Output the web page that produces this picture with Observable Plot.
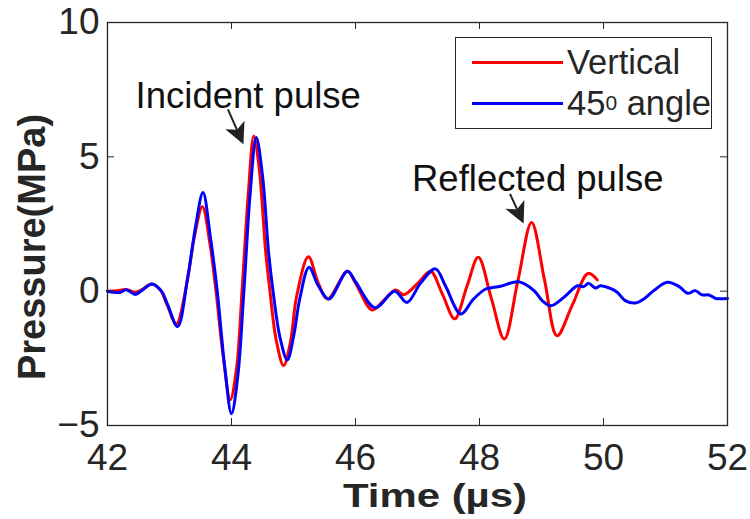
<!DOCTYPE html>
<html><head><meta charset="utf-8">
<script src="https://cdn.jsdelivr.net/npm/d3@7"></script>
<script src="https://cdn.jsdelivr.net/npm/@observablehq/plot@0.6"></script>
<style>
body{margin:0;background:#fff;}
#wrap{position:relative;width:750px;height:519px;font-family:"Liberation Sans",Arial,sans-serif;color:#262626;}
#legend{position:absolute;left:455px;top:37px;width:255px;height:90px;border:1.5px solid #262626;background:#fff;}
.row{position:absolute;left:0;height:40px;display:flex;align-items:center;font-size:34.5px;white-space:nowrap;}
.sw{display:inline-block;width:91px;height:3px;margin-left:16px;margin-right:4px;}
sup{font-size:21px;vertical-align:14px;line-height:0;}
</style></head><body><div id="wrap"></div>
<script>
// Vertical (red) series
const timeVertical = [42.0,42.15,42.3,42.45,42.55,42.71,42.85,42.96,43.11,43.28,43.4,43.53,43.65,43.75,43.87,43.98,44.08,44.17,44.27,44.36,44.45,44.55,44.62,44.72,44.84,44.95,45.05,45.24,45.4,45.55,45.87,46.0,46.27,46.45,46.65,46.78,47.02,47.21,47.4,47.6,47.8,47.98,48.19,48.4,48.62,48.84,49.05,49.25,49.5,49.75,49.9];
const pVertical    = [0.0,0.02,0.06,-0.04,0.05,0.27,0.05,-0.5,-1.22,0.3,2.0,3.14,1.8,0.0,-2.5,-4.04,-2.9,0.0,3.6,5.78,4.5,1.5,0.0,-1.8,-2.77,-1.9,-0.2,1.28,0.3,-0.29,0.74,0.3,-0.7,-0.35,0.04,-0.13,0.33,0.74,-0.1,-1.03,0.2,1.26,-0.26,-1.78,0.4,2.56,0.4,-1.66,-0.5,0.66,0.42];
// 45 degree angle (blue) series
const time45 = [42.0,42.2,42.3,42.45,42.55,42.72,42.87,42.97,43.13,43.3,43.42,43.54,43.66,43.77,43.89,44.0,44.1,44.2,44.3,44.4,44.5,44.6,44.67,44.78,44.9,45.0,45.1,45.25,45.4,45.57,45.87,46.0,46.32,46.63,46.83,47.05,47.29,47.45,47.7,47.9,48.1,48.18,48.34,48.63,48.88,49.01,49.15,49.36,49.58,49.68,49.76,49.87,49.95,50.11,50.22,50.35,50.52,50.65,50.81,51.03,51.22,51.36,51.48,51.59,51.7,51.81,52.0];
const p45    = [0.0,-0.05,0.05,-0.12,0.02,0.27,0.0,-0.5,-1.32,0.6,2.4,3.67,2.0,0.0,-2.8,-4.56,-3.2,0.0,3.6,5.72,4.3,1.4,0.0,-1.7,-2.56,-1.7,-0.3,0.89,0.2,-0.29,0.74,0.35,-0.62,0.0,-0.42,0.3,0.83,0.2,-0.85,-0.3,0.08,0.12,0.18,0.35,0.02,-0.35,-0.54,-0.23,0.2,0.17,0.29,0.12,0.2,0.1,-0.04,-0.35,-0.44,-0.29,0.02,0.33,0.17,-0.08,0.02,-0.14,-0.14,-0.27,-0.27];
const xTicks = [42,44,46,48,50,52];
const yTicks = [-5,0,5,10];
const seriesNames = ["Vertical","45⁰ angle"];
const seriesColors = ["#ff0000","#0000ff"];
const xLabel = "Time (µs)";
const yLabel = "Pressure(MPa)";
const annoLabels = ["Incident pulse","Reflected pulse"];
const annoX = [44.27,48.94];
const annoY = [7.27,4.18];
const arrowX1 = [43.95,48.5];
const arrowY1 = [6.75,3.6];
const arrowX2 = [44.2,48.72];
const arrowY2 = [5.45,2.5];

const red = timeVertical.map((t,i)=>({t, p:pVertical[i]}));
const blue = time45.map((t,i)=>({t, p:p45[i]}));
const annos = annoLabels.map((l,i)=>({label:l, x:annoX[i], y:annoY[i]}));
const arrows = arrowX1.map((x1,i)=>({x1, y1:arrowY1[i], x2:arrowX2[i], y2:arrowY2[i]}));

const W=750,H=519,ML=107,MR=23,MT=22,MB=94;
const pw=W-ML-MR, ph=H-MT-MB, tk=7;
const ink="#262626";

function arrowHeads(index, scales){
  const g=d3.create("svg:g");
  for(const a of arrows){
    const x1=scales.x(a.x1),y1=scales.y(a.y1),x2=scales.x(a.x2),y2=scales.y(a.y2);
    const dx=x2-x1,dy=y2-y1,L=Math.hypot(dx,dy),ux=dx/L,uy=dy/L,nx=-uy,ny=ux;
    const hl=21,hw=10.5;
    const bx=x2-ux*hl,by=y2-uy*hl, mx=x2-ux*hl*0.75,my=y2-uy*hl*0.75;
    g.append("line").attr("x1",x1).attr("y1",y1).attr("x2",mx).attr("y2",my).attr("stroke","#222").attr("stroke-width",2);
    g.append("path").attr("d",`M${x2},${y2}L${bx+nx*hw},${by+ny*hw}L${mx},${my}L${bx-nx*hw},${by-ny*hw}Z`).attr("fill","#222");
  }
  return g.node();
}
function axisLabels(){
  const g=d3.create("svg:g").attr("fill",ink).attr("font-weight","bold").attr("text-anchor","middle");
  g.append("text").attr("x",435).attr("y",507).attr("font-size",34)
    .attr("textLength",184).attr("lengthAdjust","spacingAndGlyphs").text(xLabel);
  g.append("text").attr("transform","translate(45,247) rotate(-90)").attr("font-size",38).text(yLabel);
  return g.node();
}

const chart = Plot.plot({
  width:W,height:H,marginLeft:ML,marginRight:MR,marginTop:MT,marginBottom:MB,
  style:{fontFamily:"'Liberation Sans',Arial,sans-serif",color:ink,background:"#fff"},
  x:{domain:[42,52]},
  y:{domain:[-5,10]},
  marks:[
    Plot.line(red,{x:"t",y:"p",stroke:seriesColors[0],strokeWidth:3,curve:"catmull-rom"}),
    Plot.line(blue,{x:"t",y:"p",stroke:seriesColors[1],strokeWidth:3,curve:"catmull-rom"}),
    Plot.frame({stroke:ink,strokeWidth:1.3}),
    Plot.tickX(xTicks,{x:d=>d,insetTop:ph-tk,stroke:ink}),
    Plot.tickX(xTicks,{x:d=>d,insetBottom:ph-tk,stroke:ink}),
    Plot.tickY(yTicks,{y:d=>d,insetRight:pw-tk,stroke:ink}),
    Plot.tickY(yTicks,{y:d=>d,insetLeft:pw-tk,stroke:ink}),
    Plot.axisX(xTicks,{tickSize:0,tickPadding:18,fontSize:37,label:null,fill:ink}),
    Plot.axisY(yTicks,{tickSize:0,tickPadding:8,fontSize:37,label:null,fill:ink}),
    Plot.text(annos,{x:"x",y:"y",text:"label",fontSize:36.5,fill:"#111"}),
    arrowHeads,
    axisLabels
  ]
});
const wrap=document.getElementById("wrap");
wrap.appendChild(chart);
const leg=document.createElement("div");
leg.id="legend";
leg.innerHTML=`<div class="row" style="top:4px"><span class="sw" style="background:${seriesColors[0]}"></span>${seriesNames[0]}</div>
<div class="row" style="top:45px"><span class="sw" style="background:${seriesColors[1]}"></span>45<sup>0</sup>&nbsp;angle</div>`;
wrap.appendChild(leg);
</script></body></html>
